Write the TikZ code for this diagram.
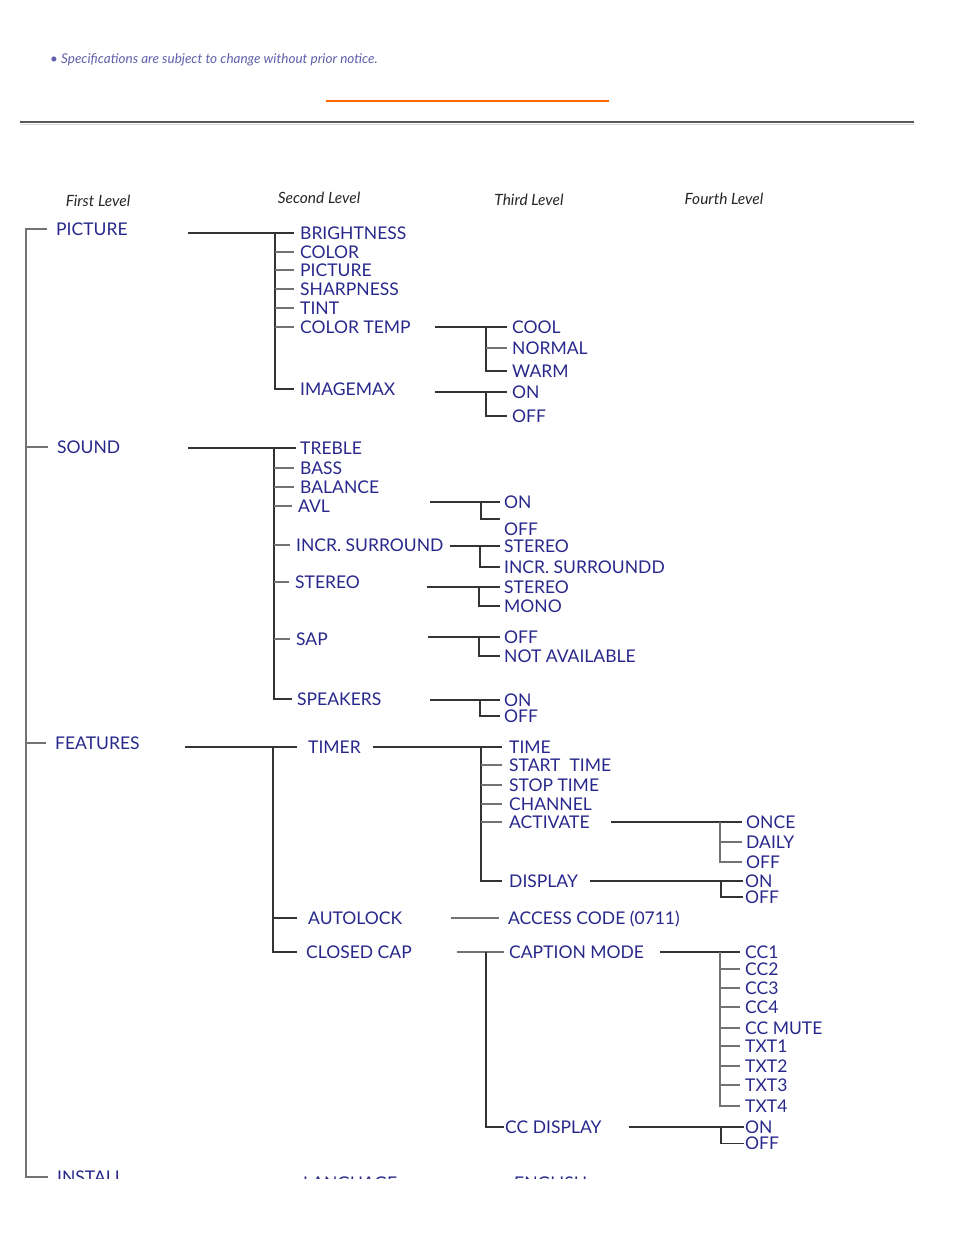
\documentclass[tikz,border=0pt]{standalone}
\usepackage{fontspec}
\setmainfont{Lato}
\definecolor{lblc}{RGB}{40,40,140}
\definecolor{notec}{RGB}{95,95,170}
\definecolor{orac}{RGB}{255,102,0}
\begin{document}
\begin{tikzpicture}[x=1pt,y=-1pt,
  lbl/.style={anchor=west,inner sep=0pt,text height=12.8pt,text depth=0pt,text=lblc,font=\fontsize{17.5}{18}\selectfont},
  hdr/.style={inner sep=0pt,font=\fontsize{15.5}{17}\selectfont\itshape,text=black!85},
  ln/.style={draw=black!80,line width=1.3pt},
  tk/.style={draw=black!55,line width=1.8pt}]
\useasboundingbox (0,0) rectangle (954,1235);
\clip (0,0) rectangle (954,1178);
% header area
\node[anchor=west,inner sep=0pt,font=\fontsize{13.5}{15}\selectfont\itshape,text=notec] (note) at (50,60) {\textbullet\ Specifications are subject to change without prior notice.};
\draw[orac,line width=1.2pt] (326,101) -- (609,101);
\draw[black!65,line width=1.8pt] (20,122) -- (914,122);
\draw[black!15,line width=1pt] (20,124.5) -- (914,124.5);
\node[hdr] (h1) at (98,201) {First Level};
\node[hdr] (h2) at (319,198) {Second Level};
\node[hdr] (h3) at (529,200) {Third Level};
\node[hdr] (h4) at (724,199) {Fourth Level};
% level 1
\node[lbl] (pic) at (56,229) {PICTURE};
\node[lbl] (snd) at (57,447) {SOUND};
\node[lbl] (feat) at (55,743) {FEATURES};
\node[lbl] (inst) at (57,1177) {INSTALL};
\coordinate (v1) at (26,229);
\draw[tk] ([xshift=-9pt]pic.west) -- (v1) |- ([xshift=-9pt]inst.west);
\draw[tk] (snd.west -| v1) -- ([xshift=-9pt]snd.west);
\draw[tk] (feat.west -| v1) -- ([xshift=-9pt]feat.west);
% PICTURE
\node[lbl] (bri) at (300,233) {BRIGHTNESS};
\node[lbl] (col) at (300,252) {COLOR};
\node[lbl] (pic2) at (300,270) {PICTURE};
\node[lbl] (shp) at (300,289) {SHARPNESS};
\node[lbl] (tint) at (300,308) {TINT};
\node[lbl] (ctemp) at (300,327) {COLOR TEMP};
\node[lbl] (imax) at (300,389) {IMAGEMAX};
\coordinate (vP) at (275,233);
\draw[ln] (188,233) -- ([xshift=-6pt]bri.west);
\draw[ln] (vP) |- ([xshift=-6pt]imax.west);
\foreach \n in {col,pic2,shp,tint,ctemp} \draw[tk] (\n.west -| vP) -- ([xshift=-6pt]\n.west);
% COLOR TEMP
\node[lbl] (cool) at (512,327) {COOL};
\node[lbl] (norm) at (512,348) {NORMAL};
\node[lbl] (warm) at (512,371) {WARM};
\coordinate (vCT) at (486,327);
\draw[ln] (435,327) -- ([xshift=-5pt]cool.west);
\draw[ln] (vCT) |- ([xshift=-5pt]warm.west);
\draw[tk] (norm.west -| vCT) -- ([xshift=-5pt]norm.west);
% IMAGEMAX
\node[lbl] (on1) at (512,392) {ON};
\node[lbl] (off1) at (512,416) {OFF};
\coordinate (vIM) at (486,392);
\draw[ln] (435,392) -- ([xshift=-5pt]on1.west);
\draw[ln] (vIM) |- ([xshift=-5pt]off1.west);
% SOUND
\node[lbl] (treb) at (300,448) {TREBLE};
\node[lbl] (bass) at (300,468) {BASS};
\node[lbl] (bal) at (300,487) {BALANCE};
\node[lbl] (avl) at (298,506) {AVL};
\node[lbl] (incr) at (296,545) {INCR. SURROUND};
\node[lbl] (ster) at (295,582) {STEREO};
\node[lbl] (sap) at (296,639) {SAP};
\node[lbl] (spk) at (297,699) {SPEAKERS};
\coordinate (vS) at (274,448);
\draw[ln] (188,448) -- ([xshift=-4pt]treb.west);
\draw[ln] (vS) |- ([xshift=-5pt]spk.west);
\foreach \n in {bass,bal,avl,incr,ster,sap} \draw[tk] (\n.west -| vS) -- ([xshift=-6pt]\n.west);
% AVL
\node[lbl] (on2) at (504,502) {ON};
\node[lbl] (off2) at (504,529) {OFF};
\coordinate (vAV) at (481,502);
\coordinate (avlend) at (500,519);
\draw[ln] (430,502) -- ([xshift=-4pt]on2.west);
\draw[ln] (vAV) |- (avlend);
% INCR SURROUND
\node[lbl] (st2) at (504,546) {STEREO};
\node[lbl] (isd) at (504,567) {INCR. SURROUNDD};
\coordinate (vIS) at (480,546);
\draw[ln] ([xshift=6pt]incr.east |- st2.west) -- ([xshift=-4pt]st2.west);
\draw[ln] (vIS) |- ([xshift=-4pt]isd.west);
% STEREO
\node[lbl] (st3) at (504,587) {STEREO};
\node[lbl] (mono) at (504,606) {MONO};
\coordinate (vST) at (479,587);
\draw[ln] (427,587) -- ([xshift=-4pt]st3.west);
\draw[ln] (vST) |- ([xshift=-4pt]mono.west);
% SAP
\node[lbl] (off3) at (504,637) {OFF};
\node[lbl] (na) at (504,656) {NOT AVAILABLE};
\coordinate (vSA) at (479,637);
\draw[ln] (428,637) -- ([xshift=-4pt]off3.west);
\draw[ln] (vSA) |- ([xshift=-4pt]na.west);
% SPEAKERS
\node[lbl] (on4) at (504,700) {ON};
\node[lbl] (off4) at (504,716) {OFF};
\coordinate (vSP) at (480,700);
\draw[ln] (430,700) -- ([xshift=-4pt]on4.west);
\draw[ln] (vSP) |- ([xshift=-4pt]off4.west);
% FEATURES
\node[lbl] (timer) at (308,747) {TIMER};
\node[lbl] (alock) at (308,918) {AUTOLOCK};
\node[lbl] (ccap) at (306,952) {CLOSED CAP};
\coordinate (vF) at (273,747);
\draw[ln] (185,747) -- ([xshift=-11pt]timer.west);
\draw[ln] (vF) |- ([xshift=-9pt]ccap.west);
\draw[ln] (alock.west -| vF) -- ([xshift=-11pt]alock.west);
% TIMER
\node[lbl] (time) at (509,747) {TIME};
\node[lbl] (start) at (509,765) {START\ \ TIME};
\node[lbl] (stop) at (509,785) {STOP TIME};
\node[lbl] (chan) at (509,804) {CHANNEL};
\node[lbl] (act) at (509,822) {ACTIVATE};
\node[lbl] (disp) at (509,881) {DISPLAY};
\coordinate (vT) at (481,747);
\draw[ln] (373,747) -- ([xshift=-7pt]time.west);
\draw[ln] (vT) |- ([xshift=-7pt]disp.west);
\foreach \n in {start,stop,chan,act} \draw[tk] (\n.west -| vT) -- ([xshift=-7pt]\n.west);
% ACTIVATE
\node[lbl] (once) at (746,822) {ONCE};
\node[lbl] (daily) at (746,842) {DAILY};
\node[lbl] (off5) at (746,862) {OFF};
\coordinate (vA) at (720,822);
\draw[ln] (611,822) -- ([xshift=-4pt]once.west);
\draw[tk] (vA) |- ([xshift=-4pt]off5.west);
\draw[tk] (daily.west -| vA) -- ([xshift=-4pt]daily.west);
% DISPLAY
\node[lbl] (on5) at (745,881) {ON};
\node[lbl] (off6) at (745,897) {OFF};
\coordinate (vD) at (721,881);
\draw[ln] (590,881) -- ([xshift=-2pt]on5.west);
\draw[ln] (vD) |- ([xshift=-2pt]off6.west);
% AUTOLOCK
\node[lbl] (acc) at (508,918) {ACCESS CODE (0711)};
\draw[tk] (451,918) -- ([xshift=-9pt]acc.west);
% CLOSED CAP
\node[lbl] (capm) at (509,952) {CAPTION MODE};
\node[lbl] (ccd) at (505,1127) {CC DISPLAY};
\coordinate (vC) at (486,952);
\draw[tk] (457,952) -- ([xshift=-5pt]capm.west);
\draw[ln] (vC) |- ([xshift=-1pt]ccd.west);
% CAPTION MODE
\node[lbl] (cc1) at (745,952) {CC1};
\node[lbl] (cc2) at (745,969) {CC2};
\node[lbl] (cc3) at (745,988) {CC3};
\node[lbl] (cc4) at (745,1007) {CC4};
\node[lbl] (ccm) at (745,1028) {CC MUTE};
\node[lbl] (t1) at (745,1046) {TXT1};
\node[lbl] (t2) at (745,1066) {TXT2};
\node[lbl] (t3) at (745,1085) {TXT3};
\node[lbl] (t4) at (745,1106) {TXT4};
\coordinate (vM) at (720,952);
\draw[ln] (660,952) -- ([xshift=-5pt]cc1.west);
\draw[tk] (vM) |- ([xshift=-5pt]t4.west);
\foreach \n in {cc2,cc3,cc4,ccm,t1,t2,t3} \draw[tk] (\n.west -| vM) -- ([xshift=-5pt]\n.west);
% CC DISPLAY
\node[lbl] (on6) at (745,1127) {ON};
\node[lbl] (off7) at (745,1143.5) {OFF};
\coordinate (vCD) at (721,1127);
\draw[ln] (629,1127) -- ([xshift=-1pt]on6.west);
\draw[ln] (vCD) |- ([xshift=-1pt]off7.west);
% INSTALL (cut off)
\node[lbl] (lang) at (303,1183) {LANGUAGE};
\node[lbl] (eng) at (514,1183) {ENGLISH};
\end{tikzpicture}
\end{document}
